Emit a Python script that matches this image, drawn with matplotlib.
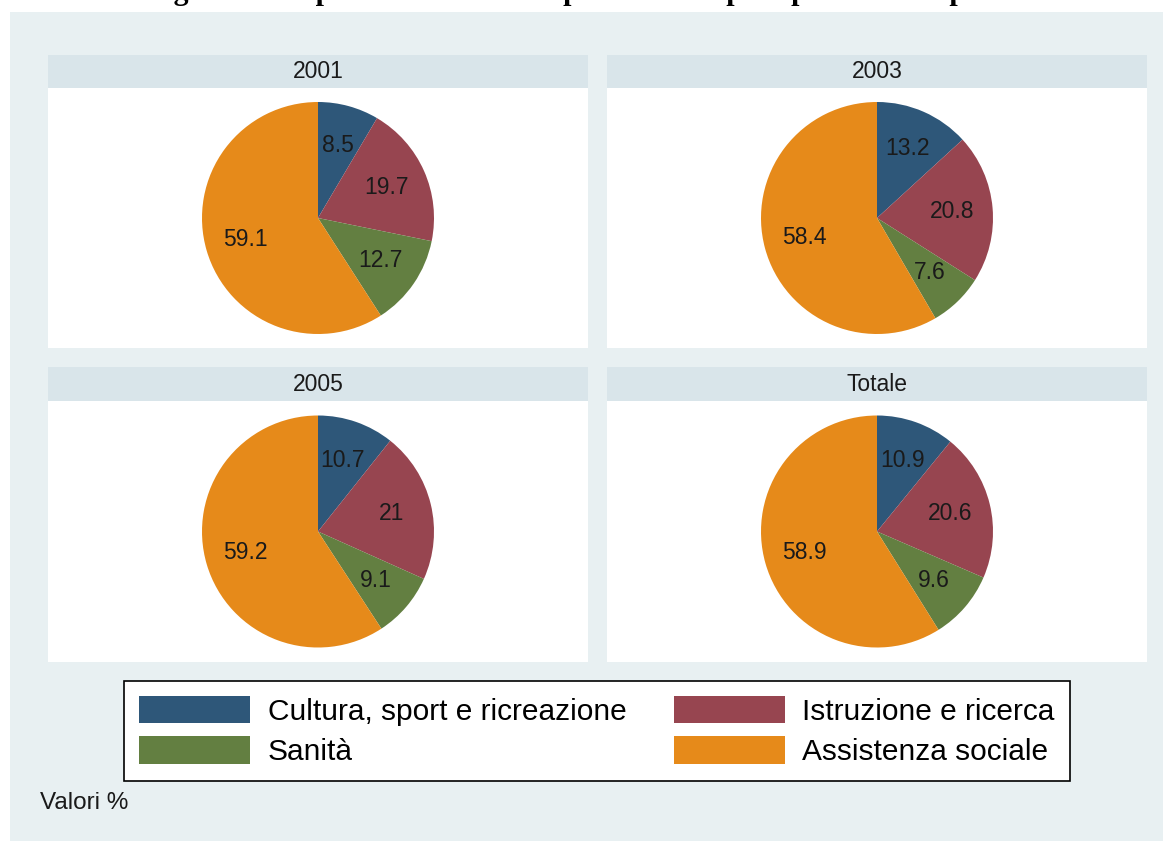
import matplotlib.pyplot as plt
from matplotlib.patches import Rectangle, Patch

# dati (valori %)
settori = ["Cultura, sport e ricreazione", "Istruzione e ricerca",
           "Sanità", "Assistenza sociale"]
colori = ["#2E5779", "#974550", "#637F41", "#E68A1A"]
pannelli = ["2001", "2003", "2005", "Totale"]
v2001 = [8.5, 19.7, 12.7, 59.1]
v2003 = [13.2, 20.8, 7.6, 58.4]
v2005 = [10.7, 21.0, 9.1, 59.2]
vtot = [10.9, 20.6, 9.6, 58.9]
valori = [v2001, v2003, v2005, vtot]

titolo = "Figura 1 – Ripartizione delle cooperative di tipo A per settore operativo"

W, H = 1173, 841
plt.rcParams['font.family'] = ['Liberation Sans', 'DejaVu Sans']
fig = plt.figure(figsize=(W / 100, H / 100), dpi=100)


def box(x0, y0, x1, y1):
    # pixel box (top-left origin) -> figure coords
    return [x0 / W, 1 - y1 / H, (x1 - x0) / W, (y1 - y0) / H]


def rect(x0, y0, x1, y1, **kw):
    l, b, w, h = box(x0, y0, x1, y1)
    fig.patches.append(Rectangle((l, b), w, h, transform=fig.transFigure,
                                 zorder=-1, **kw))


# sfondo
rect(10, 12, 1163, 841, facecolor="#E8F0F2", edgecolor="none")

# titolo (tagliato in alto come nell'originale)
fig.text(601 / W, 1 - 0.5 / H, titolo, ha="center", va="baseline",
         fontsize=21.5, fontweight="bold", family="Liberation Serif")

cols = [(48, 588), (607, 1147)]
rows = [(55, 88, 348), (367, 401, 662)]
R = 116

for i, (nome, vals) in enumerate(zip(pannelli, valori)):
    x0, x1 = cols[i % 2]
    hy0, by0, by1 = rows[i // 2]
    rect(x0, hy0, x1, by0, facecolor="#D9E5EA", edgecolor="none")
    rect(x0, by0, x1, by1, facecolor="white", edgecolor="none")
    fig.text((x0 + x1) / 2 / W, 1 - (hy0 + by0) / 2 / H, nome,
             ha="center", va="center", fontsize=16.5, color="#1a1a1a")

    ax = fig.add_axes(box(x0, by0, x1, by1))
    ax.pie(vals, colors=colori, startangle=90, counterclock=False, radius=R,
           autopct=lambda p: f"{round(p, 1):g}", pctdistance=0.65,
           textprops=dict(fontsize=16.5, color="#1a1a1a"),
           wedgeprops=dict(linewidth=0))
    ax.set_xlim(-(x1 - x0) / 2, (x1 - x0) / 2)
    ax.set_ylim(-(by1 - by0) / 2, (by1 - by0) / 2)
    ax.set_axis_off()

# legenda: ordine per colonne -> righe come nell'originale
ordine = [0, 2, 1, 3]
handles = [Patch(facecolor=colori[k], edgecolor="none") for k in ordine]
labels = [settori[k] for k in ordine]
leg = fig.legend(handles, labels, ncol=2, loc="center",
                 bbox_to_anchor=(597 / W, 1 - 731 / H), fontsize=21.5,
                 handlelength=3.7, handleheight=1.04, handletextpad=0.6,
                 columnspacing=1.6, labelspacing=0.35, borderpad=0.5,
                 fancybox=False, framealpha=1, edgecolor="black")
leg.get_frame().set_linewidth(1.2)

fig.text(40 / W, 1 - 803 / H, "Valori %", ha="left", va="center",
         fontsize=17.5, color="#1a1a1a")

fig.savefig("out.png", dpi=100)
